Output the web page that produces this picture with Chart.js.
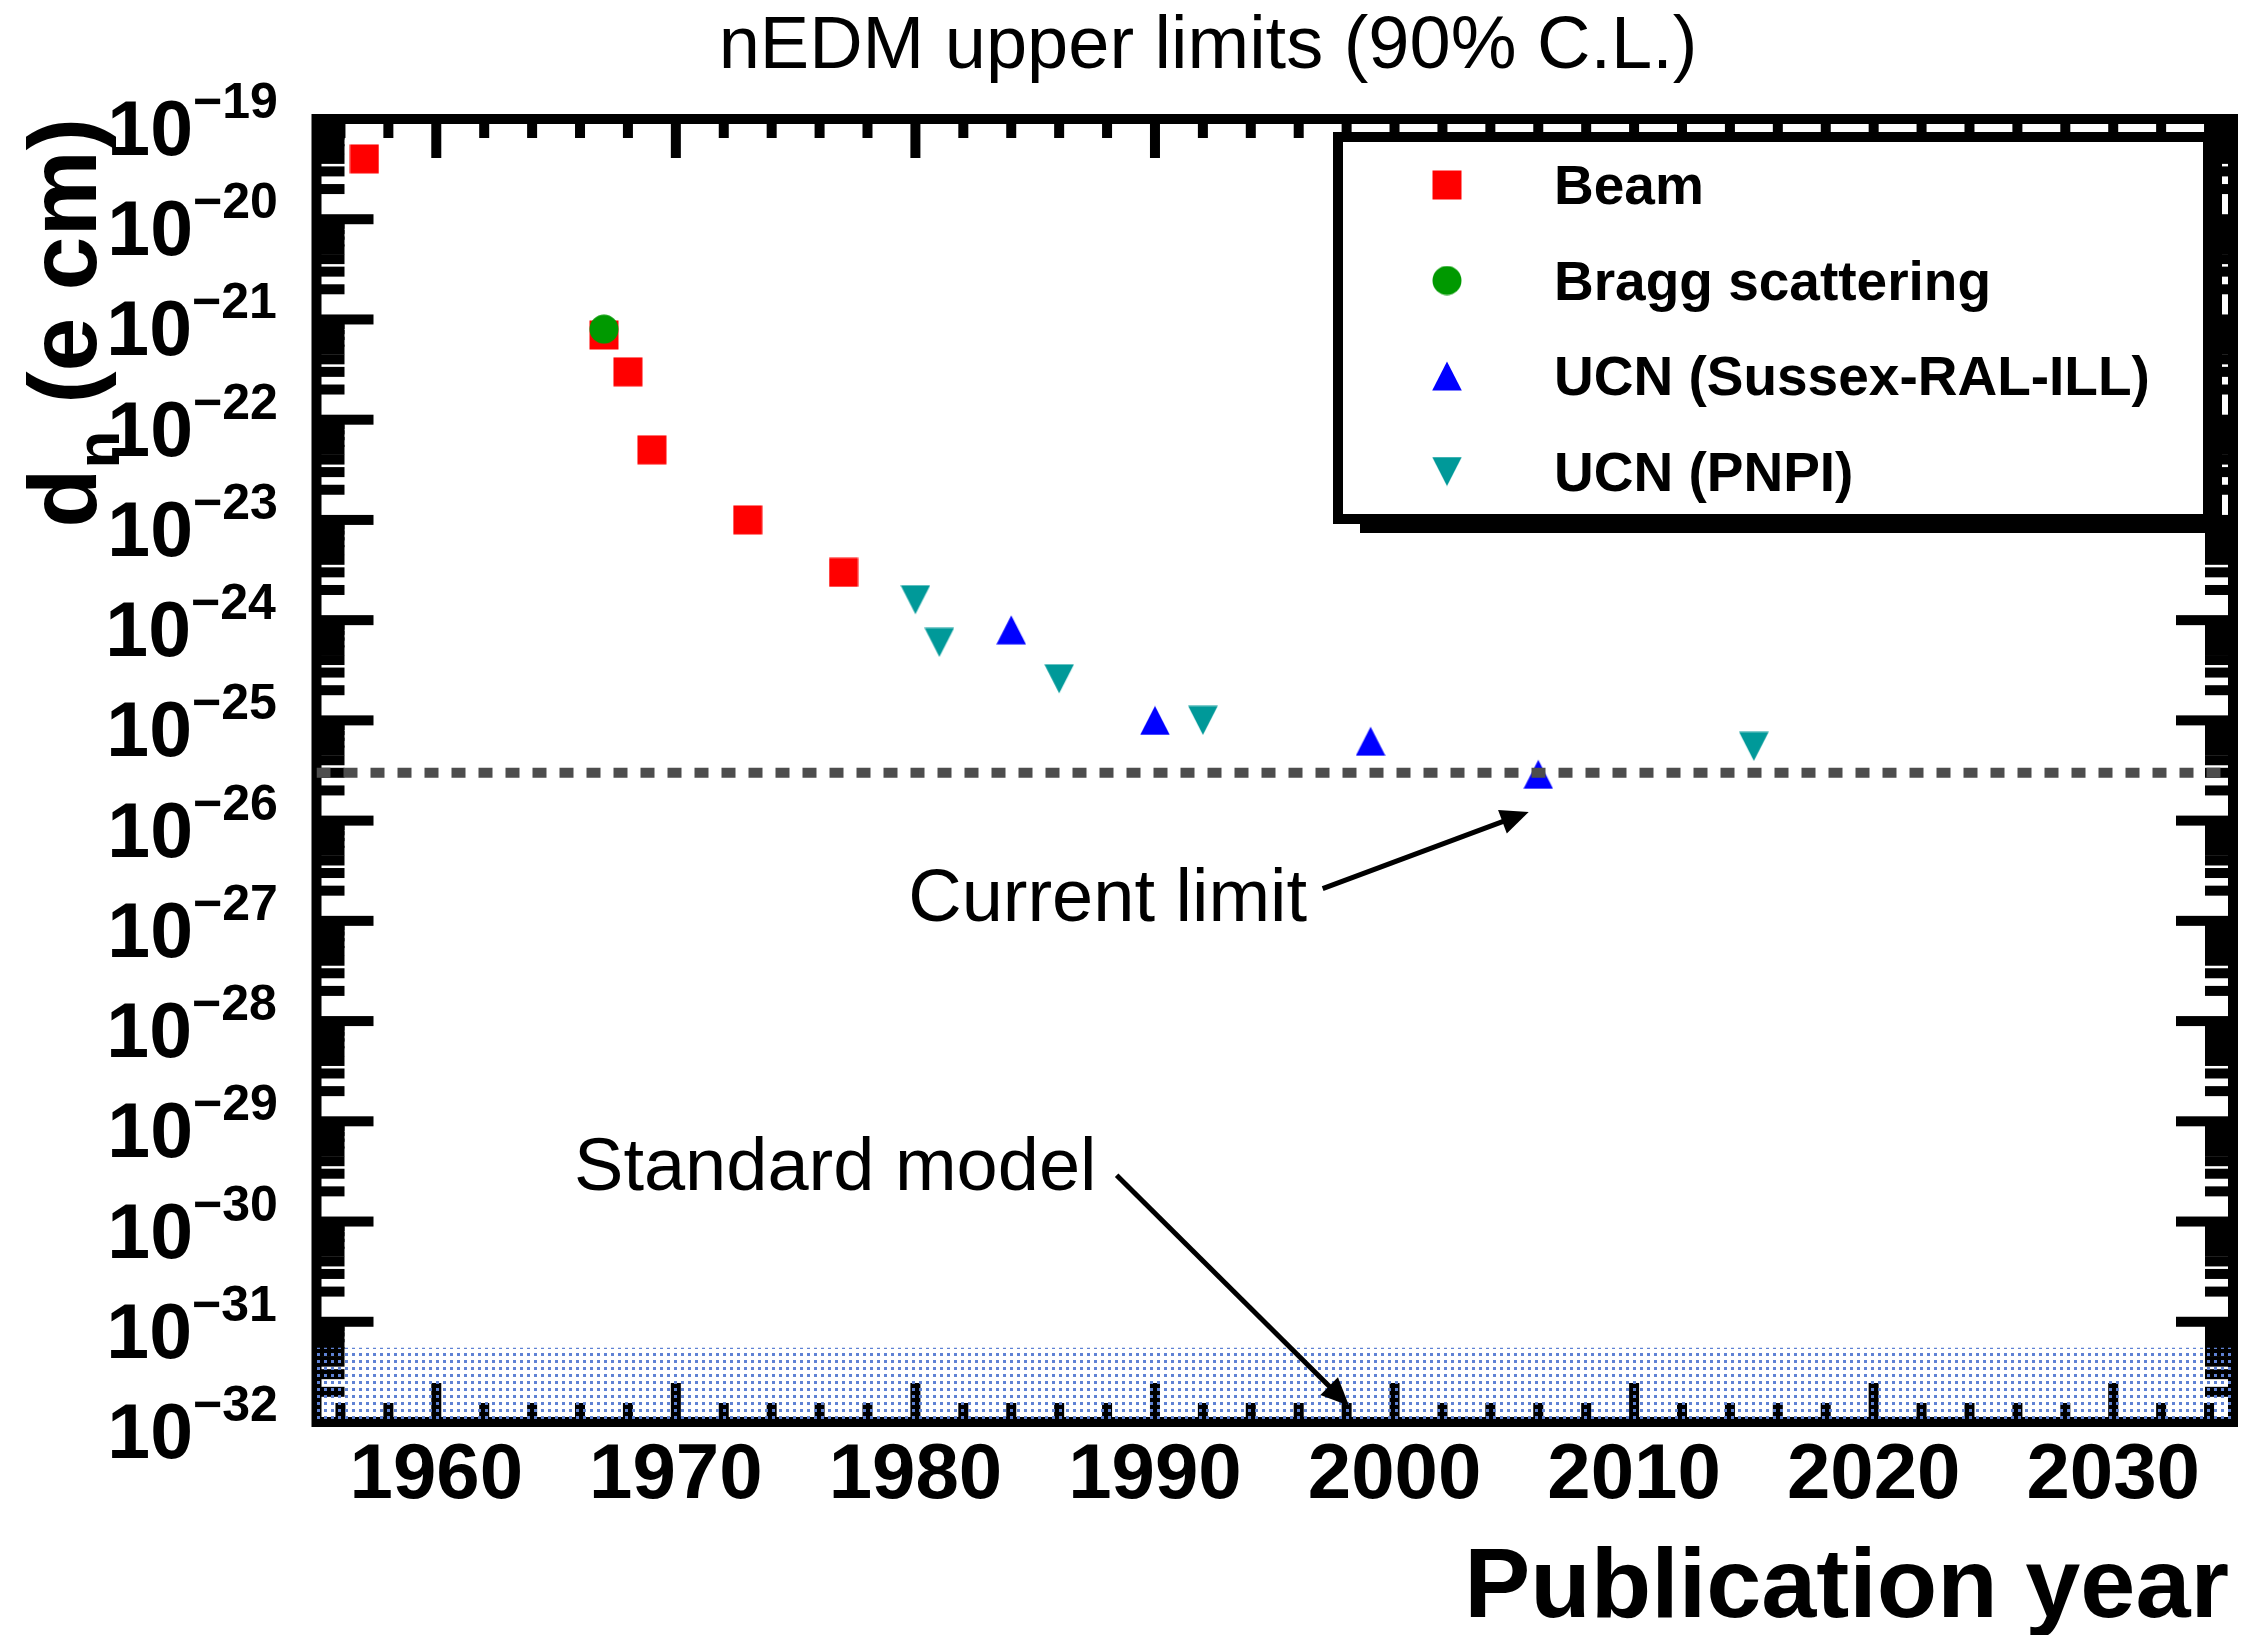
<!DOCTYPE html>
<html>
<head>
<meta charset="utf-8">
<title>nEDM upper limits</title>
<script src="https://cdn.jsdelivr.net/npm/chart.js@4.4.1/dist/chart.umd.min.js"></script>
<style>
  html, body { margin: 0; padding: 0; background: #fff; }
  #wrap { width: 2249px; height: 1635px; }
</style>
</head>
<body>
<div id="wrap"><canvas id="edmChart" width="2249" height="1635"></canvas></div>
<script>
// ═══════════════════════════════════════════════════════════════
//  DATA  — 90% C.L. upper limits on the neutron EDM (e cm)
// ═══════════════════════════════════════════════════════════════

const beamYear    = [1957, 1967, 1968, 1969, 1973, 1977];
const beamLimit   = [4.0e-20, 7.0e-22, 3.0e-22, 5.0e-23, 1.0e-23, 3.0e-24];

const braggYear   = [1967];
const braggLimit  = [8.0e-22];

const sussexYear  = [1984, 1990, 1999, 2006];
const sussexLimit = [8.0e-25, 1.0e-25, 6.2e-26, 2.9e-26];

const pnpiYear    = [1980, 1981, 1986, 1992, 2015];
const pnpiLimit   = [1.6e-24, 6.0e-25, 2.6e-25, 1.0e-25, 5.5e-26];

const currentLimit = 3.0e-26;     // dashed line
const smBandTop    = 5.5e-32;     // standard model band (down to axis min)

const yearRange    = [1955, 2035];
const yearLabels   = [1960, 1970, 1980, 1990, 2000, 2010, 2020, 2030];
const decadeExps   = [-19, -20, -21, -22, -23, -24, -25, -26, -27, -28, -29, -30, -31, -32];

const seriesNames  = ['Beam', 'Bragg scattering', 'UCN (Sussex-RAL-ILL)', 'UCN (PNPI)'];

// annotation anchors, in data coordinates (year, e cm)
const notes = [
  { text: 'Current limit',  at: [1979.7, 1.0e-27],  from: [1997.0, 2.1e-27], to: [2005.6, 1.22e-26] },
  { text: 'Standard model', at: [1965.75, 2.07e-30], from: [1988.4, 2.9e-30], to: [1998.1, 1.45e-32] },
];

// ═══════════════════════════════════════════════════════════════
//  STYLE
// ═══════════════════════════════════════════════════════════════

const FONT      = '"Liberation Sans", Arial, Helvetica, sans-serif';
const C_BEAM    = '#ff0000';
const C_BRAGG   = '#009900';
const C_SUSSEX  = '#0000ff';
const C_PNPI    = '#009999';
const C_LIMIT   = '#4d4d4d';
const C_BAND    = '#5f82d4';

// ROOT-like markers, centred on their bounding box
function marker(kind, color) {
  const c = document.createElement('canvas');
  c.width = 30; c.height = 30;
  const g = c.getContext('2d');
  g.fillStyle = color;
  g.beginPath();
  if (kind === 'square')      g.rect(0.5, 0.5, 29, 29);
  else if (kind === 'circle') g.arc(15, 15, 14.5, 0, Math.PI * 2);
  else if (kind === 'up')     { g.moveTo(15, 0.5); g.lineTo(29.8, 29.5); g.lineTo(0.2, 29.5); }
  else                        { g.moveTo(0.2, 0.5); g.lineTo(29.8, 0.5); g.lineTo(15, 29.5); }
  g.closePath();
  g.fill();
  return c;
}

function dotPattern() {
  const c = document.createElement('canvas');
  c.width = 7; c.height = 7;
  const g = c.getContext('2d');
  g.fillStyle = C_BAND;
  g.fillRect(2, 2, 3, 3);
  return document.getElementById('edmChart').getContext('2d').createPattern(c, 'repeat');
}

const MARKERS = [marker('square', C_BEAM), marker('circle', C_BRAGG), marker('up', C_SUSSEX), marker('down', C_PNPI)];

const pts = (xs, ys) => xs.map((x, i) => ({ x, y: ys[i] }));

// ═══════════════════════════════════════════════════════════════
//  PLUGINS — frame, ticks, labels, legend, annotations
// ═══════════════════════════════════════════════════════════════

const frameTicks = {
  id: 'frameTicks',
  beforeDatasetsDraw(chart) {
    const { ctx, chartArea: a, scales: { x, y } } = chart;
    ctx.save();
    ctx.fillStyle = '#000';

    // x ticks every 2 years, longer on the decades
    for (let yr = yearRange[0] + 1; yr < yearRange[1]; yr += 2) {
      const px  = x.getPixelForValue(yr);
      const len = yr % 10 === 0 ? 39 : 19;
      ctx.fillRect(px - 5, a.bottom - len, 10, len);
      ctx.fillRect(px - 5, a.top, 10, len);
    }

    // y ticks: decades + 2..9 minors
    for (let e = -32; e <= -19; e++) {
      for (let m = 1; m <= 9; m++) {
        const v = m * Math.pow(10, e);
        if (v > 1.0001e-19) break;
        const py  = y.getPixelForValue(v);
        const len = m === 1 ? 57 : 28;
        ctx.fillRect(a.left, py - 5, len, 10);
        ctx.fillRect(a.right - len, py - 5, len, 10);
      }
    }

    ctx.strokeStyle = '#000';
    ctx.lineWidth = 10;
    ctx.strokeRect(a.left, a.top, a.right - a.left, a.bottom - a.top);
    ctx.restore();
  },

  afterDatasetsDraw(chart) {
    const { ctx, scales: { x, y } } = chart;
    ctx.save();
    ctx.fillStyle = '#000';
    ctx.textBaseline = 'alphabetic';

    // ── y tick labels 10^-n ────────────────────────────────────
    for (const e of decadeExps) {
      const py = y.getPixelForValue(Math.pow(10, e));
      ctx.font = 'bold 77px ' + FONT;
      const wb = ctx.measureText('10').width;
      ctx.font = 'bold 50px ' + FONT;
      const sup = '\u2212' + (-e);
      const ink = ctx.measureText(sup).actualBoundingBoxRight;
      const x0  = 276 - ink - wb;
      ctx.font = 'bold 77px ' + FONT;
      ctx.textAlign = 'left';
      ctx.fillText('10', x0, py + 36);
      ctx.font = 'bold 50px ' + FONT;
      ctx.fillText(sup, x0 + wb, py - 1);
    }

    // ── x tick labels ─────────────────────────────────────────
    ctx.font = 'bold 78px ' + FONT;
    ctx.textAlign = 'center';
    yearLabels.forEach(yr => ctx.fillText(String(yr), x.getPixelForValue(yr), 1498));

    // ── titles ────────────────────────────────────────────────
    ctx.font = '74px ' + FONT;
    ctx.fillText('nEDM upper limits (90% C.L.)', 1208, 68);

    ctx.font = 'bold 99px ' + FONT;
    ctx.textAlign = 'right';
    ctx.fillText('Publication year', 2229, 1617);

    // y title: d_n (e cm), rotated, ending at the top of the frame
    ctx.save();
    ctx.translate(96, 118);
    ctx.rotate(-Math.PI / 2);
    ctx.textAlign = 'left';
    ctx.font = 'bold 97px ' + FONT;
    const wd = ctx.measureText('d').width;
    const wr = ctx.measureText(' (e cm)').width;
    ctx.font = 'bold 62px ' + FONT;
    const wn = ctx.measureText('n').width;
    let cx = -(wd + wn + wr);
    ctx.font = 'bold 97px ' + FONT;
    ctx.fillText('d', cx, 0); cx += wd;
    ctx.font = 'bold 62px ' + FONT;
    ctx.fillText('n', cx, 23); cx += wn;
    ctx.font = 'bold 97px ' + FONT;
    ctx.fillText(' (e cm)', cx, 0);
    ctx.restore();

    // ── annotations with arrows ───────────────────────────────
    ctx.font = '74px ' + FONT;
    ctx.textAlign = 'left';
    ctx.strokeStyle = '#000';
    notes.forEach(n => {
      ctx.fillText(n.text, x.getPixelForValue(n.at[0]), y.getPixelForValue(n.at[1]));
      arrow(ctx,
        x.getPixelForValue(n.from[0]), y.getPixelForValue(n.from[1]),
        x.getPixelForValue(n.to[0]),   y.getPixelForValue(n.to[1]));
    });

    // ── legend box with shadow ────────────────────────────────
    const L = 1333, T = 132, R = 2213, B = 524;
    ctx.fillStyle = '#000';
    ctx.fillRect(L + 27, T + 12, R - L - 18, B - T - 3);
    ctx.fillStyle = '#fff';
    ctx.fillRect(L, T, R - L, B - T);
    ctx.strokeStyle = '#000';
    ctx.lineWidth = 10;
    ctx.strokeRect(L + 5, T + 5, R - L - 10, B - T - 10);

    ctx.fillStyle = '#000';
    ctx.font = 'bold 55px ' + FONT;
    seriesNames.forEach((name, i) => {
      const cy = 185 + i * 95.5;
      ctx.drawImage(MARKERS[i], 1447 - 15, cy - 15);
      ctx.fillText(name, 1554, cy + 19);
    });

    ctx.restore();
  }
};

function arrow(ctx, x1, y1, x2, y2) {
  const ang  = Math.atan2(y2 - y1, x2 - x1);
  const head = 28, half = 12.5;
  const bx = x2 - head * Math.cos(ang), by = y2 - head * Math.sin(ang);
  ctx.lineWidth = 5;
  ctx.beginPath();
  ctx.moveTo(x1, y1);
  ctx.lineTo(bx + 3 * Math.cos(ang), by + 3 * Math.sin(ang));
  ctx.stroke();
  ctx.beginPath();
  ctx.moveTo(x2, y2);
  ctx.lineTo(bx + half * Math.sin(ang), by - half * Math.cos(ang));
  ctx.lineTo(bx - half * Math.sin(ang), by + half * Math.cos(ang));
  ctx.closePath();
  ctx.fill();
}

// ═══════════════════════════════════════════════════════════════
//  CHART   (lower `order` is drawn on top)
// ═══════════════════════════════════════════════════════════════

const band = dotPattern();

new Chart(document.getElementById('edmChart'), {
  type: 'scatter',
  data: {
    datasets: [
      { type: 'line', label: 'Current limit', data: pts(yearRange, [currentLimit, currentLimit]), order: -2,
        showLine: true, borderColor: C_LIMIT, borderWidth: 10, borderDash: [14, 13], pointRadius: 0, fill: false },
      { label: seriesNames[0], data: pts(beamYear, beamLimit),     pointStyle: MARKERS[0], pointRadius: 15, order: 0 },
      { label: seriesNames[1], data: pts(braggYear, braggLimit),   pointStyle: MARKERS[1], pointRadius: 15, order: -1 },
      { label: seriesNames[2], data: pts(sussexYear, sussexLimit), pointStyle: MARKERS[2], pointRadius: 15, order: 0 },
      { label: seriesNames[3], data: pts(pnpiYear, pnpiLimit),     pointStyle: MARKERS[3], pointRadius: 15, order: 0 },
      { type: 'line', label: 'Standard model', data: pts(yearRange, [smBandTop, smBandTop]), order: 1,
        showLine: true, borderColor: 'rgba(0,0,0,0)', borderWidth: 1, backgroundColor: band,
        fill: 'start', pointRadius: 0 },
    ]
  },
  options: {
    responsive: false,
    devicePixelRatio: 1,
    animation: false,
    events: [],
    layout: { padding: { left: 316.5, top: 119, right: 16, bottom: 213 } },
    plugins: { legend: { display: false }, tooltip: { enabled: false } },
    scales: {
      x: { type: 'linear', min: yearRange[0], max: yearRange[1], display: false },
      y: { type: 'logarithmic', min: 1e-32, max: 1e-19, display: false }
    }
  },
  plugins: [frameTicks]
});
</script>
</body>
</html>
